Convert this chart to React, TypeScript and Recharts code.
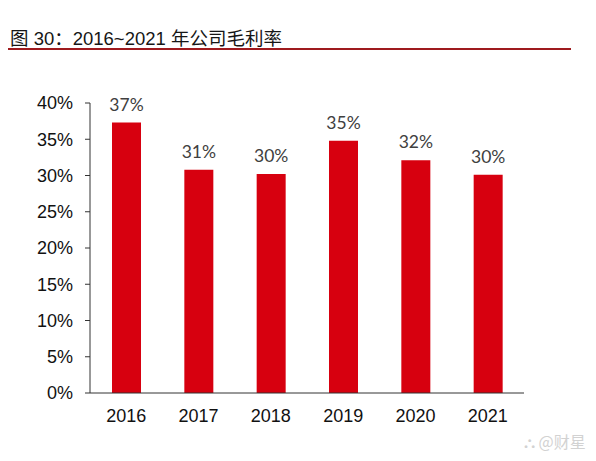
import React from "react";
import { BarChart, Bar, XAxis, YAxis, LabelList } from "recharts";

const years = ["2016", "2017", "2018", "2019", "2020", "2021"];
const grossMargin = [0.373, 0.308, 0.302, 0.348, 0.321, 0.301];
const yTicks = [0, 0.05, 0.1, 0.15, 0.2, 0.25, 0.3, 0.35, 0.4];
const edgeTicks = [0, 1, 2, 3, 4, 5, 6];

const data = years.map((year, i) => ({ year, value: grossMargin[i], idx: i + 0.5 }));

const latin = "'Liberation Sans', Arial, 'Noto Sans CJK SC', sans-serif";
const pct = (v: number) => `${Math.round(v * 100)}%`;

const App = () => {
    return (
        <div style={{ position: "absolute", left: 0, top: 0, width: 596, height: 461, background: "#fff", fontFamily: latin }}>
            {/* caption + dark red rule */}
            <div style={{ position: "absolute", left: 10, top: 29, fontSize: 18.5, lineHeight: "19px", color: "#161616", fontFamily: "'Liberation Sans', 'Noto Sans CJK SC', sans-serif", whiteSpace: "nowrap" }}>
                图 30：2016~2021 年公司毛利率
            </div>
            <div style={{ position: "absolute", left: 8, top: 48, width: 563, height: 2, background: "#9e1a1e" }} />

            <div style={{ position: "absolute", left: 0, top: 0 }}>
                <BarChart width={596} height={461} data={data} margin={{ top: 103, right: 72, bottom: 27, left: 0 }}>
                    {/* boundary ticks between categories (default id sits next to the plot) */}
                    <XAxis type="number" dataKey="idx" domain={[0, 6]} ticks={edgeTicks} tick={false}
                        tickSize={6} height={1} axisLine={{ stroke: "#333" }} tickLine={{ stroke: "#333" }} />
                    <XAxis xAxisId="cat" dataKey="year" axisLine={false} tickLine={false} tickSize={8} tickMargin={7} height={40}
                        tick={{ fill: "#111", fontSize: 18, fontFamily: latin }} interval={0} />
                    <YAxis domain={[0, 0.4]} ticks={yTicks} tickFormatter={pct} width={90} tickSize={5} tickMargin={12}
                        axisLine={{ stroke: "#333" }} tickLine={{ stroke: "#333" }}
                        tick={{ fill: "#111", fontSize: 18, fontFamily: latin }} interval={0} />
                    <Bar xAxisId="cat" dataKey="value" fill="#d7000f" barSize={29} isAnimationActive={false}>
                        <LabelList dataKey="value" position="top" offset={12} formatter={(v: any) => pct(Number(v))}
                            style={{ fill: "#404040", fontSize: 17.5, fontFamily: "Lato, 'Open Sans', sans-serif" }} />
                    </Bar>
                </BarChart>
            </div>

            {/* watermark */}
            <div style={{ position: "absolute", left: 524, top: 429, fontSize: 16, color: "#d2d2d2", fontFamily: "'Noto Sans CJK SC', sans-serif", whiteSpace: "nowrap" }}>
                ⛬ @财星
            </div>
        </div>
    );
};

export default App;
